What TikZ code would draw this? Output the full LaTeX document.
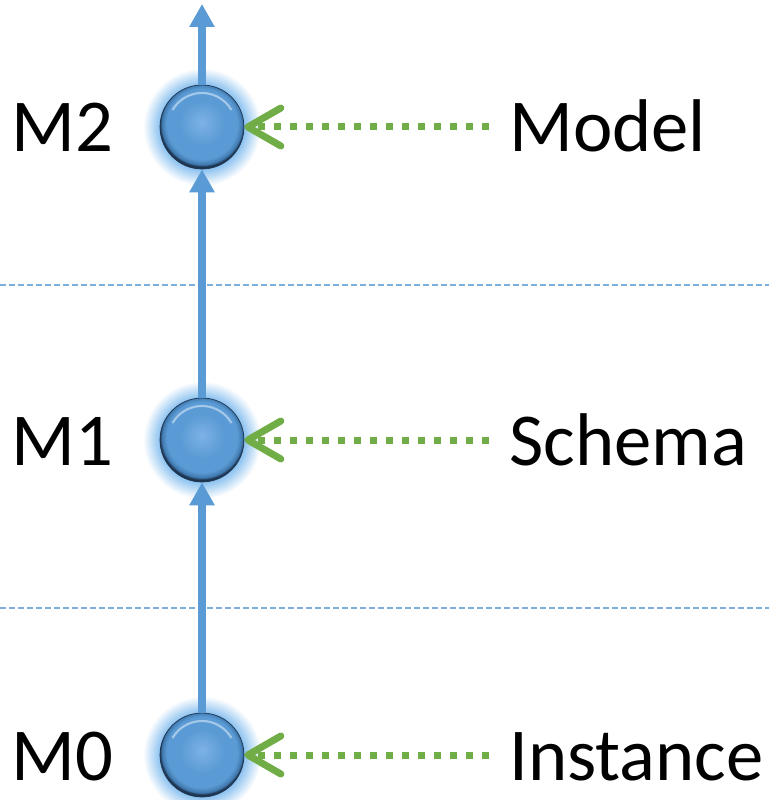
\documentclass[tikz,border=0pt]{standalone}
\usepackage{fontspec}
\setmainfont{Carlito}
\usetikzlibrary{arrows.meta}
\usetikzlibrary{backgrounds}

\definecolor{levelblue}{HTML}{5B9BD5}
\definecolor{balllight}{HTML}{7DB2E6}
\definecolor{balldark}{HTML}{3F78AE}
\definecolor{ballrim}{HTML}{1E3550}
\definecolor{glowblue}{HTML}{8EC3F0}
\definecolor{mapgreen}{HTML}{70AD47}

\pgfdeclareradialshading{ballshade}{\pgfpoint{0bp}{3bp}}{color(0bp)=(balllight); color(13bp)=(levelblue); color(21bp)=(levelblue); color(24bp)=(balldark); color(25bp)=(ballrim); color(50bp)=(ballrim)}
\pgfdeclareradialshading{glowshade}{\pgfpoint{0bp}{0bp}}{color(0bp)=(glowblue); color(18bp)=(glowblue); color(25bp)=(white); color(50bp)=(white)}

\begin{document}
\begin{tikzpicture}[x=0.02cm,y=-0.02cm,
  ball/.style={circle,minimum size=1.68cm,inner sep=0pt,shading=ballshade,draw=ballrim,line width=0.4pt},
  level/.style={font=\fontsize{42.5}{50}\selectfont,inner sep=0pt},
  up/.style={draw=levelblue,line width=0.16cm,-{Triangle[length=0.46cm,width=0.48cm]}},
  typeof/.style={draw=mapgreen,line width=0.14cm,dash pattern=on 0.14cm off 0.18cm,shorten <=0.4cm,
    -{Straight Barb[length=0.66cm,width=0.76cm,line cap=round,line join=round]}},
  divider/.style={draw=levelblue!80,line width=0.6pt,dash pattern=on 0.12cm off 0.06cm}]
\useasboundingbox (0,0) rectangle (769,800);
% The three levels
\node[ball] (m2ball) at (202,127) {};
\node[ball] (m1ball) at (202,440) {};
\node[ball] (m0ball) at (202,755) {};
\coordinate (top) at (202,4);
% Shine on the balls
\foreach \b in {m0ball,m1ball,m2ball}
  \draw[white,opacity=0.45,line width=1.2pt] ([shift={(150:0.68cm)}]\b.center) arc[start angle=150,end angle=30,radius=0.68cm];
% Level names
\node[level,anchor=base west] (m2) at (11,152) {M2};
\node[level,anchor=base west] (m1) at (11,465) {M1};
\node[level,anchor=base west] (m0) at (11,780) {M0};
% What each level holds
\node[level,anchor=base west] (model) at (509,152) {Model};
\node[level,anchor=base west] (schema) at (509,465) {Schema};
\node[level,anchor=base west] (instance) at (509,780) {Instance};
% Glow and separators
\begin{scope}[on background layer]
\shade[shading=glowshade] (m2ball) circle (1.18cm);
\shade[shading=glowshade] (m1ball) circle (1.18cm);
\shade[shading=glowshade] (m0ball) circle (1.18cm);
\draw[divider] (0,285) -- (769,285);
\draw[divider] (0,608) -- (769,608);
\end{scope}
% Level arrows
\draw[up] (m0ball) -- (m1ball);
\draw[up] (m1ball) -- (m2ball);
\draw[up] (m2ball) -- (top);
% Mapping arrows
\draw[typeof] (model.west |- m2ball) -- (m2ball);
\draw[typeof] (schema.west |- m1ball) -- (m1ball);
\draw[typeof] (instance.west |- m0ball) -- (m0ball);
\end{tikzpicture}
\end{document}
